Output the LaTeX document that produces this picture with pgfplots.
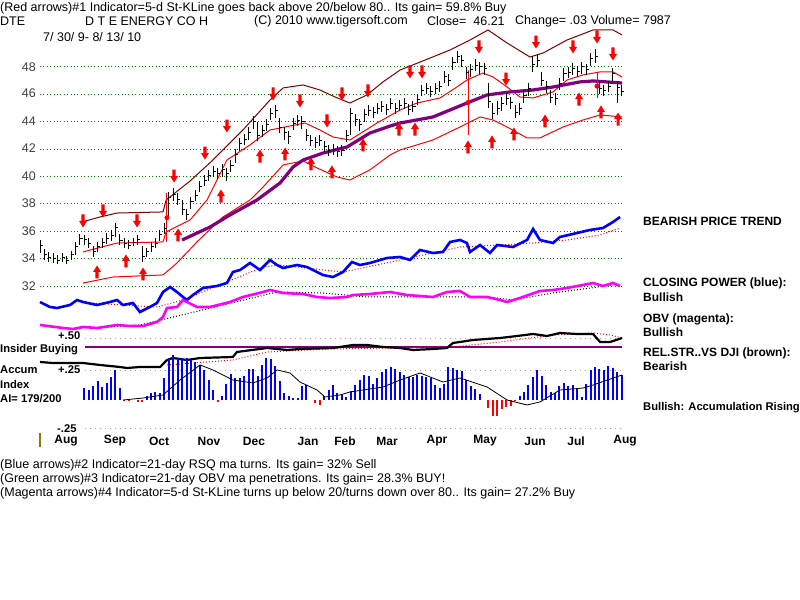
\documentclass[border=0pt]{standalone}
\usepackage{pgfplots}
\pgfplotsset{compat=1.18}
\usepackage{pgfplotstable}
\usepackage{fontspec}
\setmainfont{Liberation Sans}

\definecolor{dkred}{RGB}{128,0,0}
\definecolor{purp}{RGB}{128,0,128}
\definecolor{mag}{RGB}{255,0,255}
\definecolor{grn}{RGB}{0,128,0}
\definecolor{olivec}{RGB}{128,128,0}
\definecolor{pinkdot}{RGB}{225,140,160}
\definecolor{cpblue}{RGB}{0,0,255}

\pgfdeclareplotmark{rtick}{\pgfpathmoveto{\pgfpoint{0pt}{0pt}}\pgfpathlineto{\pgfpoint{2.6bp}{0pt}}\pgfusepathqstroke}
\pgfdeclareplotmark{darr}{%
 \pgfpathmoveto{\pgfpoint{-1.6bp}{6.5bp}}\pgfpathlineto{\pgfpoint{1.6bp}{6.5bp}}%
 \pgfpathlineto{\pgfpoint{1.6bp}{0bp}}\pgfpathlineto{\pgfpoint{4bp}{0bp}}%
 \pgfpathlineto{\pgfpoint{0bp}{-6.5bp}}\pgfpathlineto{\pgfpoint{-4bp}{0bp}}%
 \pgfpathlineto{\pgfpoint{-1.6bp}{0bp}}\pgfpathclose\pgfusepathqfill}
\pgfdeclareplotmark{uarr}{%
 \pgfpathmoveto{\pgfpoint{-1.6bp}{-6.5bp}}\pgfpathlineto{\pgfpoint{1.6bp}{-6.5bp}}%
 \pgfpathlineto{\pgfpoint{1.6bp}{0bp}}\pgfpathlineto{\pgfpoint{4bp}{0bp}}%
 \pgfpathlineto{\pgfpoint{0bp}{6.5bp}}\pgfpathlineto{\pgfpoint{-4bp}{0bp}}%
 \pgfpathlineto{\pgfpoint{-1.6bp}{0bp}}\pgfpathclose\pgfusepathqfill}

\pgfplotsset{base/.style={scale only axis, width=800bp, height=600bp,
  xmin=-18.018, xmax=342.34, hide axis, clip=false, at={(0,0)}, anchor=south west}}

% daily price bars (every second session): index, close, high, low
\pgfplotstableread{
i c h l
0 35.0 35.4 34.4
2 34.3 34.7 33.9
4 34.1 34.5 33.8
6 34.0 34.4 33.7
8 33.9 34.3 33.6
10 34.1 34.4 33.8
12 33.9 34.2 33.6
14 34.3 34.6 33.9
16 34.9 35.2 34.3
18 35.5 35.8 35.0
20 35.4 35.7 35.0
22 35.1 35.5 34.8
24 34.5 34.9 34.1
26 34.9 35.2 34.5
28 35.2 35.5 34.8
30 35.5 35.9 35.1
32 35.7 36.1 35.3
34 36.3 36.6 35.6
36 35.3 35.8 35.0
38 35.1 35.5 34.8
40 35.0 35.4 34.7
42 35.2 35.5 34.9
44 35.4 35.7 35.0
46 34.2 34.9 33.8
48 34.5 34.8 34.1
50 34.9 35.2 34.5
52 35.1 35.5 34.8
54 35.8 36.1 35.3
56 36.2 36.6 35.8
58 38.5 38.9 37.0
60 38.7 39.2 38.2
62 38.3 38.8 37.9
64 37.6 38.3 37.2
66 37.2 37.6 36.8
68 38.2 38.5 37.6
70 38.6 39.0 38.2
72 39.3 39.7 38.9
74 39.7 40.1 39.3
76 40.1 40.5 39.7
78 40.4 40.8 40.0
80 40.2 40.6 39.8
82 40.5 40.9 40.0
84 40.2 40.6 39.7
86 40.8 41.2 40.3
88 41.6 42.0 41.0
90 42.4 42.8 41.9
92 42.7 43.1 42.3
94 43.2 43.6 42.7
96 44.0 44.4 43.5
98 43.0 44.0 42.6
100 43.4 43.8 42.9
102 43.8 44.2 43.3
104 44.6 45.0 44.1
106 44.8 45.2 44.3
108 43.6 44.3 43.2
110 43.2 43.6 42.7
112 42.9 43.3 42.4
114 43.9 44.3 43.4
116 44.1 44.5 43.7
118 44.0 44.4 43.5
120 43.0 43.5 42.6
122 42.6 43.0 42.2
124 42.5 42.9 42.1
126 42.6 43.0 42.2
128 42.2 42.6 41.8
130 41.9 42.3 41.5
132 42.0 42.4 41.6
134 41.8 42.2 41.4
136 41.9 42.3 41.5
138 43.0 43.4 42.5
140 44.6 45.0 43.0
142 44.2 44.6 43.7
144 43.8 44.2 43.3
146 44.5 44.9 44.0
148 44.8 45.2 44.4
150 44.7 45.1 44.3
152 45.0 45.4 44.6
154 45.1 45.5 44.7
156 44.9 45.3 44.5
158 45.3 45.7 44.9
160 45.0 45.4 44.6
162 45.2 45.6 44.8
164 45.3 45.7 44.9
166 44.9 45.3 44.5
168 45.1 45.5 44.7
170 45.6 46.0 45.2
172 46.3 46.7 45.9
174 46.4 46.8 46.0
176 46.2 46.6 45.8
178 46.4 46.8 46.0
180 46.6 47.0 46.2
182 47.3 47.7 46.8
184 47.0 47.5 46.6
186 48.3 48.7 47.8
188 48.8 49.2 48.3
190 48.5 48.9 48.0
192 47.6 48.0 47.1
194 47.8 48.2 47.3
196 48.1 48.6 47.7
198 48.0 48.4 47.5
200 47.9 48.3 47.4
202 45.5 46.8 45.0
204 44.6 45.4 44.2
206 45.0 45.5 44.5
208 45.3 45.8 44.8
210 45.7 46.1 45.2
212 45.4 45.8 44.9
214 44.7 45.2 44.3
216 45.0 45.4 44.5
218 45.9 46.3 45.4
220 46.4 46.8 45.9
222 48.2 48.8 47.6
224 48.5 48.9 48.0
226 47.0 47.6 46.6
228 46.6 47.0 46.1
230 45.8 46.3 45.4
232 45.7 46.1 45.2
234 46.8 47.2 46.3
236 47.5 47.9 47.0
238 47.6 48.0 47.2
240 47.9 48.3 47.4
242 47.7 48.1 47.3
244 48.0 48.4 47.5
246 47.8 48.2 47.4
248 48.6 49.0 48.1
250 48.8 49.3 48.3
252 46.4 47.0 46.0
254 46.3 46.7 45.9
256 46.6 47.0 46.2
258 47.5 47.9 47.0
260 46.5 47.0 45.4
262 46.21 46.7 45.9
}\pricedata

\pgfplotstableread{
i c h l
57.2 37.0 38.8 35.2
192.8 45.4 47.8 43.0
250.9 46.6 47.6 45.7
}\redbars

\pgfplotstableread{
i p
18.9 36.69
27 37.05
34.7 37.34
55.4 37.42
56.8 38.29
67.6 39.68
77.9 41.21
91.4 43.40
103.6 45.59
109.5 46.47
118.5 46.69
126.1 46.32
132.9 45.81
139.6 45.37
147.3 45.96
154.5 46.91
162.2 47.78
171.2 48.36
184.7 49.24
193.7 49.97
201.8 50.70
210.4 49.75
220.7 48.73
226.6 49.02
237.4 49.97
249.1 50.70
258.1 50.70
262.2 50.34
}\upband

\pgfplotstableread{
i p
19.4 34.50
34.7 35.15
55.4 35.23
56.8 35.96
67.6 36.83
75.2 38.29
84.2 41.21
94.6 42.31
103.6 43.40
112.6 43.69
119.4 43.91
126.1 43.40
132 42.89
139.6 42.67
151.8 43.91
162.2 44.86
169.8 45.37
180.2 45.74
187.8 46.54
192.3 47.05
199.5 47.56
204.1 47.27
210.4 46.54
216.2 45.81
222.1 45.74
231.1 46.18
237.4 47.05
244.6 47.42
252.3 47.64
258.1 47.64
262.2 47.27
}\midband

\pgfplotstableread{
i p
19.4 32.23
32.9 32.67
55.4 32.82
61.7 33.69
70.7 35.23
82.4 37.05
94.6 38.29
100.5 39.24
109.5 40.85
118.5 41.14
124.8 40.63
133.8 39.97
139.6 39.75
148.6 40.49
157.7 41.58
162.2 41.94
177 42.67
189.2 43.62
198.2 44.35
204.1 44.13
210.4 43.62
219.4 42.82
225.2 42.82
235.6 43.62
244.6 44.13
252.3 44.50
262.2 44.35
}\lowband

\pgfplotstableread{
i p
64 35.37
76.6 36.32
85.6 37.20
97.7 38.29
108.1 39.53
114 40.70
118.5 41.21
127.5 41.72
138.3 42.16
148.6 43.18
157.7 43.69
162.2 43.91
177 44.35
192.3 45.37
201.4 45.96
211.7 46.18
222.1 46.32
231.1 46.54
243.2 46.91
249.1 46.98
255.4 46.91
262.2 46.83
}\maline

\pgfplotstableread{
i p
19.4 36.76
28.4 37.49
43.7 36.76
60.4 40.04
74.3 41.72
84.2 43.69
105 46.03
117.1 45.52
129.3 44.06
136 46.03
147.7 46.25
166.7 47.64
172.1 47.64
197.7 49.46
209.9 47.12
223.4 49.82
240.1 49.46
250.9 50.19
258.1 48.95
}\downarrows

\pgfplotstableread{
i p
25.7 33.04
38.7 33.84
46.4 32.89
62.2 35.74
81.5 38.58
99.1 41.50
110.4 41.65
122.1 40.92
131.5 40.34
145.5 42.31
161.7 43.47
168.9 43.47
192.8 42.16
203.6 42.53
213.5 43.11
227.5 44.06
242.8 45.66
252.7 44.72
260.4 44.20
}\uparrows

% indicator panel levels (arbitrary units)
\pgfplotstableread{
i v
0 298
4.5 293
7.7 292
13.5 295
16.7 300
19.4 298
25.7 295
31.5 298
34.7 300
37.4 295
41.9 297
45 288
49.5 293
52.7 297
55.4 308
58.6 313
61.7 308
64.4 303
66.2 300
68.9 305
73.4 312
79.7 314
84.2 317
86.9 328
90.1 330
94.6 337
99.1 330
103.6 340
106.8 335
109.5 332
115.8 335
120.3 333
124.8 328
127.5 325
132 323
136.5 328
140.5 338
144.1 335
148.6 337
156.3 342
162.2 343
166.7 340
171.2 350
177 347
181.5 348
184.7 358
189.2 360
192.3 357
193.7 348
198.2 355
202.7 347
205.9 355
213.1 353
219.4 360
222.1 371
225.2 360
231.1 357
234.2 363
241.9 367
247.7 370
253.6 372
258.1 378
261.3 383
}\cpdata

\pgfplotstableread{
i v
22.5 297
52.7 293
64.4 300
100.5 333
108.1 335
127.5 330
136.5 328
162.2 340
189.2 353
207.2 355
222.1 357
237.4 360
252.3 365
261.3 372
}\cptrend

\pgfplotstableread{
i v
0 275
10.4 272
14.9 271
19.4 273
25.7 272
34.7 275
40.5 274
46.4 274
52.7 278
55.4 283
57.2 292
61.7 293
64.4 300
70.7 293
76.6 293
85.6 298
91.4 303
100.5 308
103.6 310
109.5 307
118.5 306
124.8 303
130.6 302
138.3 303
141 305
148.6 306
157.7 308
165.3 305
177 303
183.3 308
189.2 309
193.7 303
201.4 303
207.2 300
210.4 298
216.2 302
225.2 309
231.1 310
237.4 312
249.1 317
253.6 314
258.1 317
261.3 314
}\obvdata

\pgfplotstableread{
i v
23.9 272
45 275
67.6 287
106.8 308
127.5 307
147.3 303
177 303
201.4 303
213.1 300
231.1 307
258.1 315
}\obvtrend

\pgfplotstableread{
i v
0 238
5.9 237
19.4 237
27 235
36 233
39.2 232
45 233
54.1 233
57.2 240
59.9 242
66.2 240
72.1 242
86.9 243
88.7 248
102.3 252
111.3 250
117.1 251
132 252
141 255
147.3 255
154.5 253
162.2 252
168 250
177 251
183.3 252
186 257
189.2 258
195 260
207.2 262
214.9 264
222.1 266
228.4 264
234.2 267
241.9 266
249.1 266
252.3 258
256.8 258
262.2 262
}\rsdata

\pgfplotstableread{
i v
57.2 235
86.9 240
102.3 248
130.6 251
186 253
207.2 258
231.1 265
249.1 267
256.8 265
262.2 262
}\rstrend

% accumulation index
\pgfplotstableread{
i a
20 0.103
22 0.086
24 0.121
26 0.164
28 0.112
30 0.147
32 0.198
34 0.259
36 0.103
38 -0.009
40 -0.009
42 0.0
44 -0.017
46 -0.017
48 0.034
50 0.060
52 0.069
54 0.060
56 0.190
58 0.353
60 0.388
62 0.362
64 0.362
66 0.362
68 0.345
70 0.328
72 0.302
74 0.259
76 0.172
78 0.086
80 -0.017
82 0.034
84 0.138
86 0.224
88 0.190
90 0.190
92 0.207
94 0.267
96 0.267
98 0.207
100 0.302
102 0.362
104 0.353
106 0.293
108 0.164
110 0.060
112 0.034
114 0.017
116 0.017
118 0.121
120 0.129
122 0.0
124 -0.026
126 -0.043
128 0.034
130 0.086
132 0.129
134 0.060
136 0.043
138 0.026
140 0.078
142 0.129
144 0.172
146 0.216
148 0.207
150 0.138
152 0.190
154 0.241
156 0.267
158 0.284
160 0.267
162 0.241
164 0.216
166 0.198
168 0.198
170 0.216
172 0.207
174 0.198
176 0.190
178 0.129
180 0.103
182 0.138
184 0.284
186 0.276
188 0.259
190 0.250
192 0.172
194 0.121
196 0.095
198 0.052
200 0.0
202 -0.069
204 -0.138
206 -0.138
208 -0.078
210 -0.060
212 -0.052
214 -0.009
216 0.034
218 0.069
220 0.129
222 0.198
224 0.259
226 0.207
228 0.129
230 0.069
232 0.060
234 0.121
236 0.147
238 0.121
240 0.129
242 0.103
244 0.026
246 0.138
248 0.259
250 0.284
252 0.267
254 0.259
256 0.293
258 0.276
260 0.241
262 0.216
}\aidata

\pgfplotstableread{
i a
37.4 0.0
46.4 0.017
55.4 0.043
63.1 0.172
72.1 0.302
77.9 0.259
86.9 0.172
95.9 0.147
102.3 0.190
106.8 0.259
112.6 0.233
117.1 0.155
124.8 0.086
128.4 0.026
135.1 0.043
139.6 0.069
154.5 0.112
162.2 0.172
171.2 0.233
181.5 0.155
189.2 0.190
201.4 0.112
210.4 0.0
219.4 -0.043
225.2 -0.017
234.2 0.086
244.6 0.103
249.1 0.129
262.2 0.216
}\aima

\tikzset{
 reg/.style={font=\fontsize{12.5bp}{14bp}\selectfont, inner sep=0pt, anchor=west},
 bld/.style={font=\fontsize{12bp}{14bp}\selectfont\bfseries, inner sep=0pt, anchor=west},
 lbl/.style={font=\fontsize{11.2bp}{13bp}\selectfont\bfseries, inner sep=0pt, anchor=west},
 mon/.style={font=\fontsize{12bp}{14bp}\selectfont\bfseries, inner sep=0pt, anchor=center}}

\begin{document}
\begin{tikzpicture}
\useasboundingbox (0,0) rectangle (800bp,600bp);
\fill[white] (0,0) rectangle (800bp,600bp);

% ---------- price panel ----------
\begin{axis}[base, ymin=9.095, ymax=52.89]
\foreach \g in {32,34,...,48}{
  \edef\tmp{\noexpand\addplot[grn, line width=1bp, dash pattern=on 1bp off 2.4bp] coordinates {(0,\g) (262.2,\g)};}\tmp
}
\addplot[dkred, line width=1bp] table[x=i,y=p] {\upband};
\addplot[red, line width=1bp] table[x=i,y=p] {\midband};
\addplot[red, line width=1bp] table[x=i,y=p] {\lowband};
\addplot[purp, line width=3.2bp] table[x=i,y=p] {\maline};
\addplot[black, line width=1bp, mark=rtick, only marks,
  error bars/.cd, y dir=both, y explicit, error mark=none,
  error bar style={line width=1bp, solid}]
  table[x=i, y=c, y error plus expr=\thisrow{h}-\thisrow{c}, y error minus expr=\thisrow{c}-\thisrow{l}] {\pricedata};
\addplot[red, line width=1bp, mark=none, only marks,
  error bars/.cd, y dir=both, y explicit, error mark=none,
  error bar style={line width=1bp, solid, red}]
  table[x=i, y=c, y error plus expr=\thisrow{h}-\thisrow{c}, y error minus expr=\thisrow{c}-\thisrow{l}] {\redbars};
\addplot[red, only marks, mark=darr] table[x=i,y=p] {\downarrows};
\addplot[red, only marks, mark=uarr] table[x=i,y=p] {\uparrows};
\end{axis}

% ---------- indicator panels (levels) ----------
\begin{axis}[base, ymin=0, ymax=600]
\addplot[red, line width=1bp, dash pattern=on 1bp off 2bp] table[x=i,y=v] {\cptrend};
\addplot[cpblue, line width=2.6bp] table[x=i,y=v] {\cpdata};
\addplot[black, line width=1bp, dash pattern=on 1bp off 2bp] table[x=i,y=v] {\obvtrend};
\addplot[mag, line width=2.6bp] table[x=i,y=v] {\obvdata};
\addplot[pinkdot, line width=1bp, dash pattern=on 1bp off 4bp] coordinates {(20.3,261) (262.2,261)};
\addplot[purp, line width=1.2bp] coordinates {(20.3,253) (262.2,253)};
\addplot[red, line width=1bp, dash pattern=on 1bp off 2bp] table[x=i,y=v] {\rstrend};
\addplot[black, line width=2.2bp] table[x=i,y=v] {\rsdata};
\end{axis}

% ---------- accumulation index ----------
\begin{axis}[base, ymin=-1.724, ymax=3.448]
\addplot[gray!70, line width=1bp, dash pattern=on 1bp off 4bp] coordinates {(20.3,0.25) (262.2,0.25)};
\addplot[pinkdot, line width=1bp, dash pattern=on 1bp off 4bp] coordinates {(20.3,-0.25) (262.2,-0.25)};
\addplot[ycomb, cpblue, line width=2bp, restrict y to domain=0:5] table[x=i,y=a] {\aidata};
\addplot[ycomb, red, line width=2bp, restrict y to domain=-5:0] table[x=i,y=a] {\aidata};
\addplot[black, line width=0.8bp] table[x=i,y=a] {\aima};
\end{axis}

% ---------- texts ----------
\node[reg] at (0bp,592bp) {(Red arrows)\#1 Indicator=5-d St-KLine goes back above 20/below 80.. Its gain= 59.8\% Buy};
\node[reg] at (0bp,579bp) {DTE};
\node[reg] at (85bp,579bp) {D T E ENERGY CO H};
\node[reg] at (254bp,579bp) {(C) 2010 www.tigersoft.com};
\node[reg] at (427bp,579bp) {Close=\ \ 46.21};
\node[reg] at (515bp,579bp) {Change= .03 Volume= 7987};
\node[reg] at (43bp,563bp) {7/ 30/ 9- 8/ 13/ 10};

\foreach \p/\yy in {48/533,46/507,44/479,42/452,40/424,38/397,36/369,34/342,32/314}{
  \node[reg, anchor=east, text=black!75] at (36bp,\yy bp) {\p};
}

\node[bld] at (643bp,379bp) {BEARISH PRICE TREND};
\node[bld] at (643bp,317bp) {CLOSING POWER (blue):};
\node[bld] at (643bp,303bp) {Bullish};
\node[bld] at (643bp,281bp) {OBV (magenta):};
\node[bld] at (643bp,268bp) {Bullish};
\node[bld] at (643bp,247bp) {REL.STR..VS DJI (brown):};
\node[bld] at (643bp,234bp) {Bearish};
\node[lbl] at (643bp,192bp) {Bullish: Accumulation Rising};

\node[lbl] at (58bp,264.5bp) {+.50};
\node[lbl] at (0bp,250.5bp) {Insider Buying};
\node[lbl] at (0bp,230bp) {Accum};
\node[lbl] at (58bp,230bp) {+.25};
\node[lbl] at (0bp,216bp) {Index};
\node[lbl] at (0bp,201bp) {AI= 179/200};
\node[lbl] at (57bp,171bp) {-.25};
\draw[olivec, line width=1.2bp] (40bp,153bp) -- (40bp,167bp);

\foreach \m/\xx in {Aug/66,Sep/115,Oct/159,Nov/209,Dec/254,Jan/308,Feb/345,Mar/387,Apr/437,May/485,Jun/535,Jul/576,Aug/625}{
  \node[mon] at (\xx bp,159bp) {\m};
}

\node[reg] at (0bp,135bp) {(Blue arrows)\#2 Indicator=21-day RSQ ma turns. Its gain= 32\% Sell};
\node[reg] at (0bp,121bp) {(Green arrows)\#3 Indicator=21-day OBV ma penetrations. Its gain= 28.3\% BUY!};
\node[reg] at (0bp,107bp) {(Magenta arrows)\#4 Indicator=5-d St-KLine turns up below 20/turns down over 80.. Its gain= 27.2\% Buy};
\end{tikzpicture}
\end{document}
